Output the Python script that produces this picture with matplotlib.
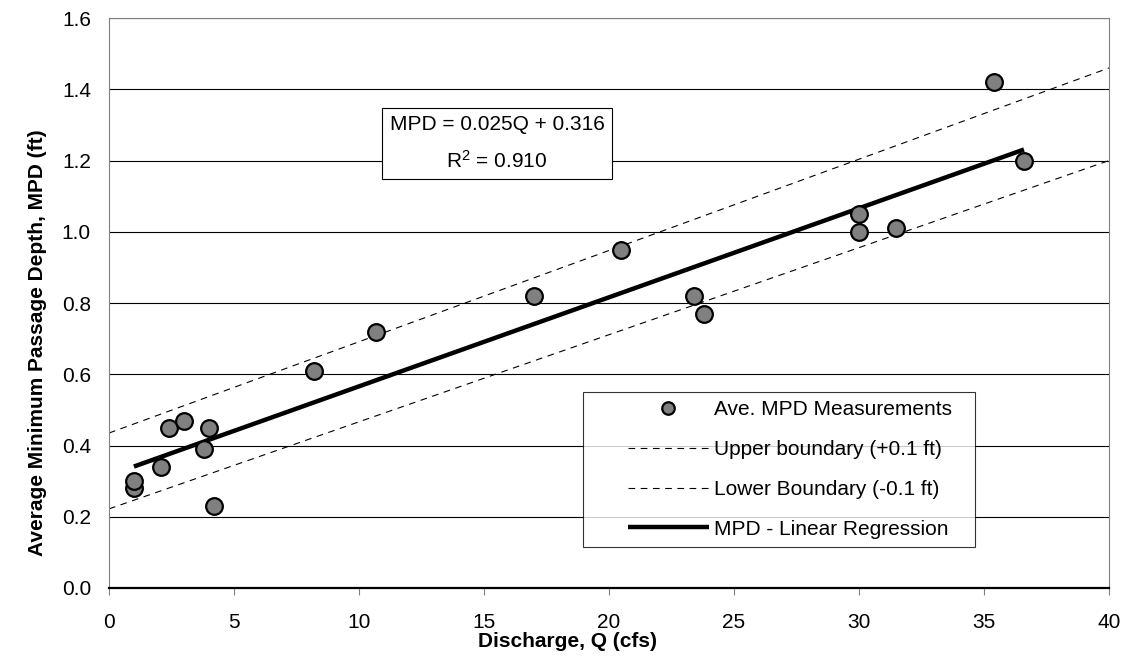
import numpy as np
import matplotlib.pyplot as plt
from matplotlib.legend_handler import HandlerLine2D

plt.rcParams["font.family"] = ["Liberation Sans", "DejaVu Sans"]

# measured discharge (cfs) and average minimum passage depth (ft)
q_cfs = [1.0, 1.0, 2.1, 2.4, 3.0, 3.8, 4.0, 4.2, 8.2, 10.7, 17.0, 20.5,
         23.4, 23.8, 30.0, 30.0, 31.5, 35.4, 36.6]
mpd_ft = [0.28, 0.30, 0.34, 0.45, 0.47, 0.39, 0.45, 0.23, 0.61, 0.72, 0.82, 0.95,
          0.82, 0.77, 1.05, 1.00, 1.01, 1.42, 1.20]

# regression
slope = 0.025
intercept = 0.316
r_squared = 0.910
reg_q = [1.0, 36.6]

# boundary lines (read at x=0 and x=40)
bound_q = [0, 40]
upper_mpd = [0.435, 1.46]
lower_mpd = [0.222, 1.20]

FS = 15


def main():
    fig = plt.figure(figsize=(11.23, 6.70), dpi=100)
    ax = fig.add_axes([0.097, 0.1224, 0.8905, 0.8506])

    for y in np.arange(0.2, 1.61, 0.2):
        ax.axhline(y, color="black", lw=0.8, zorder=1)

    ax.plot(bound_q, upper_mpd, color="black", lw=0.8, ls=(0, (6, 5)),
            label="Upper boundary (+0.1 ft)", zorder=2)
    ax.plot(bound_q, lower_mpd, color="black", lw=0.8, ls=(0, (6, 5)),
            label="Lower Boundary (-0.1 ft)", zorder=2)
    reg_y = [slope * q + intercept for q in reg_q]
    ax.plot(reg_q, reg_y, color="black", lw=3.2, solid_capstyle="butt",
            label="MPD - Linear Regression", zorder=3)
    ax.plot(q_cfs, mpd_ft, ls="none", marker="o", ms=12, mfc="#808080",
            mec="black", mew=1.6, label="Ave. MPD Measurements", zorder=4)

    ax.set_xlim(0, 40)
    ax.set_ylim(0, 1.6)
    ax.set_xticks(np.arange(0, 41, 5))
    ax.set_yticks(np.arange(0, 1.61, 0.2))
    ax.set_yticklabels([f"{v:.1f}" for v in np.arange(0, 1.61, 0.2)])
    ax.tick_params(labelsize=FS, direction="out", color="#808080")
    ax.tick_params(axis="x", length=5, pad=13)
    ax.tick_params(axis="y", length=0, pad=13)

    for side in ["top", "right", "left"]:
        ax.spines[side].set_color("#808080")
    ax.spines["bottom"].set_color("black")
    ax.spines["bottom"].set_linewidth(1.6)

    ax.set_xlabel("Discharge, Q (cfs)", fontsize=FS, fontweight="bold")
    ax.set_ylabel("Average Minimum Passage Depth, MPD (ft)", fontsize=FS,
                  fontweight="bold")
    ax.xaxis.set_label_coords(0.459, -0.078)
    ax.yaxis.set_label_coords(-0.062, 0.43)

    ax.text(15.52, 1.248,
            f"MPD = {slope:.3f}Q + {intercept:.3f}\n$\\mathregular{{R^2}}$ = {r_squared:.3f}",
            ha="center", va="center", fontsize=FS, linespacing=1.85, zorder=5,
            bbox=dict(boxstyle="square,pad=0.35", fc="white", ec="black", lw=0.8))

    handles, labels = ax.get_legend_handles_labels()
    order = [3, 0, 1, 2]
    hmap = {h: HandlerLine2D(xpad=1.75) for h in handles}
    leg = ax.legend([handles[i] for i in order], [labels[i] for i in order],
                    loc="upper left", bbox_to_anchor=(0.474, 0.07, 0.392, 0.274),
                    mode="expand", borderaxespad=0, fontsize=FS, frameon=True,
                    fancybox=False, edgecolor="black", handlelength=5.65,
                    handletextpad=0.25, labelspacing=1.0, borderpad=0.4,
                    markerscale=0.75, handler_map=hmap)
    leg.get_frame().set_linewidth(0.8)
    leg.set_zorder(6)

    fig.savefig("out.png", dpi=100)
    plt.close(fig)


if __name__ == "__main__":
    main()
